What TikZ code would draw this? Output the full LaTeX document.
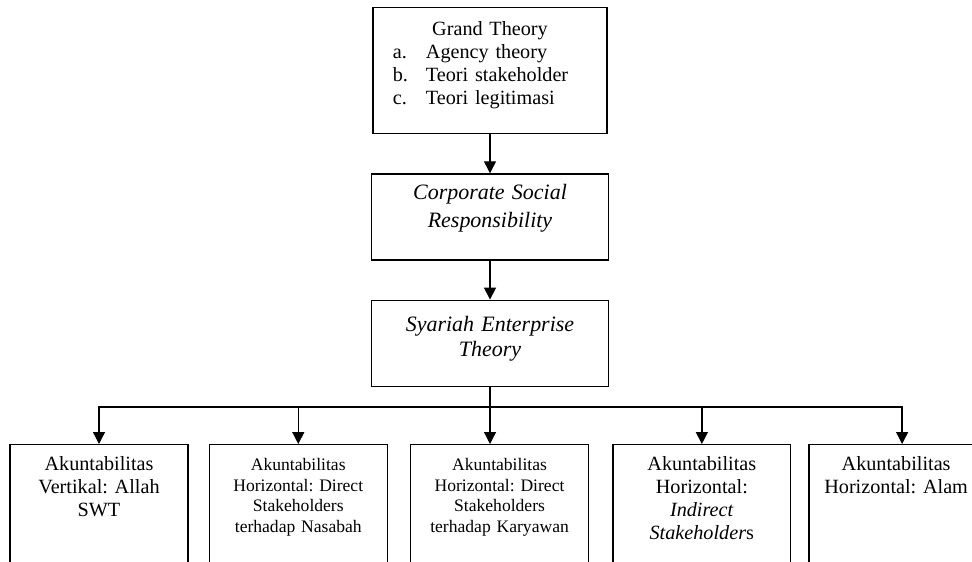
\documentclass[tikz,border=0pt]{standalone}
\usepackage{fontspec}
\setmainfont{Liberation Serif}
\frenchspacing
\usetikzlibrary{positioning,arrows.meta}
\tikzset{
	tbox/.style = {draw, inner sep=0, align=center},
	theory/.style = {tbox, text width=4.74cm, font=\fontsize{12.5}{15.9}\selectfont\itshape},
	akun/.style = {tbox, anchor=north, text width=3.56cm, text height=0.52cm, text depth=3cm,
	 font=\fontsize{11.5}{13.1}\selectfont},
	akunsmall/.style = {akun, font=\fontsize{10}{11.7}\selectfont},
	arr/.style = {-{Triangle[length=0.24cm, width=0.24cm]}}}

\begin{document}
\begin{tikzpicture}[x=0.02cm, y=-0.02cm, node distance=0.78cm, line width=0.75pt]
\useasboundingbox (0,0) rectangle (972,561);
\clip (0,0) rectangle (972,561);

% NODES
% theories
\node (grand) [tbox, anchor=north, text width=4.68cm, text height=0.56cm, text depth=1.96cm,
 font=\fontsize{11.5}{13.1}\selectfont] at (490,7)
 {Grand Theory\\ \begin{tabular}[t]{@{}l@{\hspace{0.36cm}}l@{\hspace{0.38cm}}}
 a. & Agency theory\\ b. & Teori stakeholder\\ c. & Teori legitimasi \end{tabular}};
\node (csr) [theory, text height=0.52cm, text depth=1.2cm, below=of grand]
 {Corporate Social\\ Responsibility};
\node (set) [theory, text height=0.62cm, text depth=1.1cm, below=of csr,
 font=\fontsize{12.5}{14.2}\selectfont\itshape] {Syariah Enterprise\\ Theory};
% akuntabilitas
\node (vertikal) [akun] at (99,444) {Akuntabilitas\\ Vertikal: Allah\\ SWT};
\node (nasabah) [akunsmall, right=0.4cm of vertikal]
 {Akuntabilitas\\ Horizontal: Direct\\ Stakeholders\\ terhadap Nasabah};
\node (karyawan) [akunsmall, right=0.44cm of nasabah]
 {Akuntabilitas\\ Horizontal: Direct\\ Stakeholders\\ terhadap Karyawan};
\node (indirect) [akun, right=0.46cm of karyawan]
 {Akuntabilitas\\ Horizontal:\\ \textit{Indirect}\\ \textit{Stakeholder}s};
\node (alam) [akun, text width=3.48cm, right=0.34cm of indirect]
 {Akuntabilitas\\ Horizontal: Alam};
\coordinate (bus) at (490,407);

%CONNECTIONS
\draw[arr] (grand) -- (csr);
\draw[arr] (csr) -- (set);
\draw[arr] (set) -- (set |- karyawan.north);
\draw[arr] (bus) -| (vertikal.north);
\draw[arr] (bus) -| (nasabah.north);
\draw[arr] (bus) -| (indirect.north);
\draw[arr] (bus) -| ([xshift=0.12cm]alam.north);

\end{tikzpicture}
\end{document}
